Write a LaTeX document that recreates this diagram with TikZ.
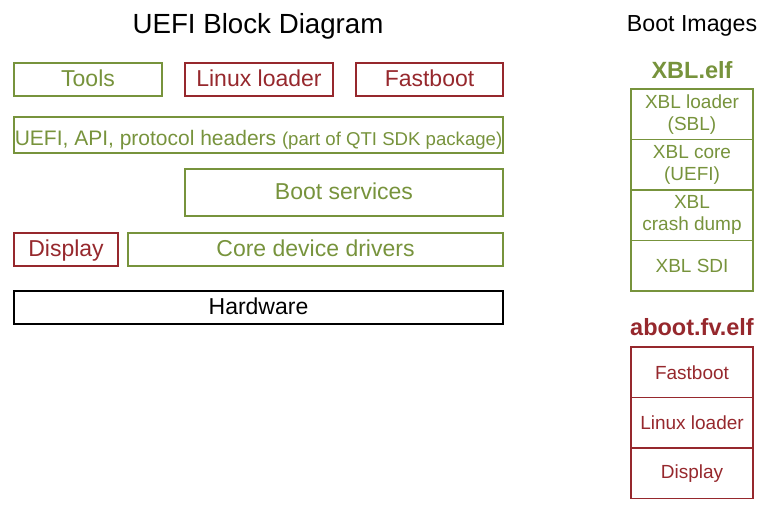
\documentclass[tikz,border=0pt]{standalone}
\usepackage{fontspec}
\setmainfont{Liberation Sans}
\usetikzlibrary{positioning,chains}
\definecolor{uefigreen}{RGB}{119,147,60}
\definecolor{uefired}{RGB}{150,40,45}
\tikzset{
	blk/.style={
		rectangle,
		draw,
		line width=1.5pt,
		inner sep=0,
		outer sep=0,
		minimum height=33pt,
		text height=16.8pt,
		text depth=2.4pt,
		font=\fontsize{23}{27}\selectfont
	},
	grn/.style={blk, draw=uefigreen, text=uefigreen},
	rd/.style={blk, draw=uefired, text=uefired},
	img/.style={
		rectangle,
		draw,
		line width=1.5pt,
		outer sep=0,
		inner sep=0,
		minimum width=122pt,
		minimum height=50.5pt,
		align=center,
		font=\fontsize{19}{22}\selectfont
	}
}

\begin{document}
\begin{tikzpicture}[x=1pt, y=-1pt]
	\useasboundingbox (0,0) rectangle (784,512);
	\node (title) at (258,26) {\fontsize{27.7}{31}\selectfont UEFI Block Diagram};
	\node (bootimg) at (692,26) {\fontsize{23.2}{27}\selectfont Boot Images};
	% left stack
	\node [grn, minimum width=148pt] (tools) at (88,79.5) {Tools};
	\node [rd, minimum width=148pt] (linux) at (259,79.5) {Linux loader};
	\node [rd, minimum width=147pt] (fast) at (429.5,79.5) {Fastboot};
	\node [grn, minimum width=489pt, minimum height=36pt, text height=22pt, text depth=2pt, font=\fontsize{21}{25}\selectfont] (api) at (258.5,135) {UEFI, API, protocol headers {\fontsize{18.6}{22}\selectfont(part of QTI SDK package)}};
	\node [grn, minimum width=318pt, minimum height=47pt] (bootsvc) at (344,192.5) {Boot services};
	\node [rd, minimum width=104pt] (disp) at (66,249.5) {Display};
	\node [grn, minimum width=375pt] (core) at (315.5,249.5) {Core device drivers};
	\node [blk, minimum width=489pt] (hw) at (258.5,307.5) {Hardware};
	% right stacks
	\node [text=uefigreen, font=\fontsize{23.5}{27}\selectfont\bfseries] (xbl) at (692,70) {XBL.elf};
	\begin{scope}[start chain=xblchain going below, node distance=0, every on chain/.style={img, draw=uefigreen, text=uefigreen}]
		\node [on chain, at={(692,114.25)}] (xblldr) {XBL loader\\(SBL)};
		\node [on chain] (xblcore) {XBL core\\(UEFI)};
		\node [on chain] (xblcrash) {XBL\\crash dump};
		\node [on chain] (xblsdi) {XBL SDI};
	\end{scope}
	\node [text=uefired, font=\fontsize{23.5}{27}\selectfont\bfseries] (aboot) at (692,327) {aboot.fv.elf};
	\begin{scope}[start chain=abootchain going below, node distance=0, every on chain/.style={img, draw=uefired, text=uefired}]
		\node [on chain, at={(692,372.25)}] (afast) {Fastboot};
		\node [on chain] (alinux) {Linux loader};
		\node [on chain] (adisp) {Display};
	\end{scope}
\end{tikzpicture}
\end{document}
